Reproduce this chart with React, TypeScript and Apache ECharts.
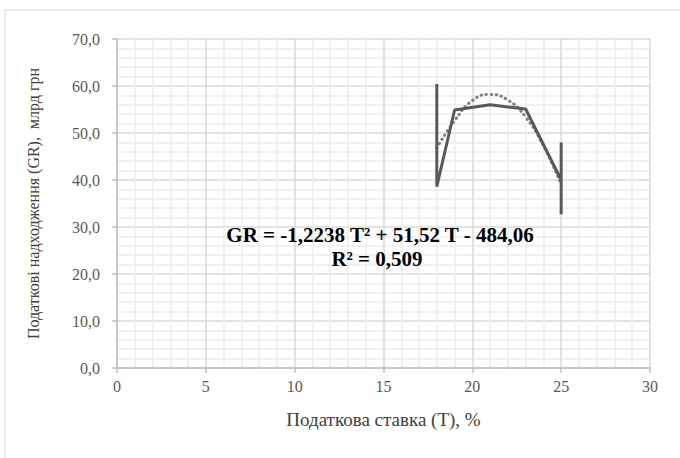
import React, { useEffect, useRef } from "react";
import * as echarts from "echarts";

const dataPoints: [number, number][] = [
  [18, 60.4],
  [18, 38.6],
  [19, 54.9],
  [21, 56.0],
  [23, 55.1],
  [25, 40.0],
  [25, 48.0],
  [25, 32.7],
];

const trendPoints: [number, number][] = [
  [18, 46.8],
  [19, 52.6],
  [20, 56.9],
  [21, 58.2],
  [22, 57.0],
  [23, 53.4],
  [24, 47.3],
  [25, 39.0],
];

const equationText = "GR = -1,2238 T² + 51,52 T - 484,06";
const r2Text = "R² = 0,509";
const xTitle = "Податкова ставка (T), %";
const yTitle = "Податкові надходження (GR),  млрд грн";

const FONT = "Liberation Serif";

export default function App() {
  const ref = useRef<HTMLDivElement>(null);
  useEffect(() => {
    document.body.style.margin = "0";
    if (!ref.current) return;
    const chart = echarts.init(ref.current, null, { renderer: "svg" });
    chart.setOption({
      animation: false,
      backgroundColor: "#ffffff",
      textStyle: { fontFamily: FONT },
      grid: { left: 117, top: 39, right: 30, bottom: 90, containLabel: false },
      graphic: [
        {
          type: "rect",
          shape: { x: 5, y: 10, width: 700, height: 500 },
          style: { fill: "none", stroke: "#d9d9d9", lineWidth: 1 },
          silent: true,
        },
        {
          type: "text",
          x: 380,
          y: 224,
          style: {
            text: equationText,
            fontFamily: FONT,
            fontWeight: "bold",
            fontSize: 21,
            fill: "#000000",
            textAlign: "center",
            textVerticalAlign: "top",
          },
          z: 10,
        },
        {
          type: "text",
          x: 377,
          y: 248.5,
          style: {
            text: r2Text,
            fontFamily: FONT,
            fontWeight: "bold",
            fontSize: 21,
            fill: "#000000",
            textAlign: "center",
            textVerticalAlign: "top",
          },
          z: 10,
        },
      ],
      xAxis: {
        type: "value",
        min: 0,
        max: 30,
        interval: 5,
        name: xTitle,
        nameLocation: "middle",
        nameGap: 42,
        nameTextStyle: { fontFamily: FONT, fontSize: 19, color: "#404040" },
        axisLine: { show: true, lineStyle: { color: "#bfbfbf", width: 1.5 } },
        axisTick: { show: true, length: 5, lineStyle: { color: "#bfbfbf", width: 1.5 } },
        minorTick: { show: false, splitNumber: 5 },
        axisLabel: { fontFamily: FONT, fontSize: 16, color: "#595959", margin: 10 },
        splitLine: { show: true, lineStyle: { color: "#d9d9d9", width: 1.5 } },
        minorSplitLine: { show: true, lineStyle: { color: "#ededed", width: 1.5 } },
      },
      yAxis: {
        type: "value",
        min: 0,
        max: 70,
        interval: 10,
        name: yTitle,
        nameLocation: "middle",
        nameGap: 76,
        nameTextStyle: { fontFamily: FONT, fontSize: 16, color: "#404040" },
        axisLine: { show: true, lineStyle: { color: "#bfbfbf", width: 1.5 } },
        axisTick: { show: true, length: 5, lineStyle: { color: "#bfbfbf", width: 1.5 } },
        minorTick: { show: false, splitNumber: 5 },
        axisLabel: {
          fontFamily: FONT,
          fontSize: 16,
          color: "#595959",
          margin: 17,
          formatter: (v: number) => v.toFixed(1).replace(".", ","),
        },
        splitLine: { show: true, lineStyle: { color: "#d9d9d9", width: 1.5 } },
        minorSplitLine: { show: true, lineStyle: { color: "#ededed", width: 1.5 } },
      },
      series: [
        {
          type: "line",
          data: trendPoints,
          smooth: true,
          showSymbol: false,
          symbol: "none",
          lineStyle: { color: "#7f7f7f", width: 3, type: [0.5, 4.5], cap: "round" },
          z: 3,
        },
        {
          type: "line",
          data: dataPoints,
          showSymbol: false,
          symbol: "none",
          lineStyle: { color: "#595959", width: 3 },
          z: 4,
        },
      ],
    });
    return () => chart.dispose();
  }, []);
  return <div ref={ref} style={{ width: 680, height: 458 }} />;
}
